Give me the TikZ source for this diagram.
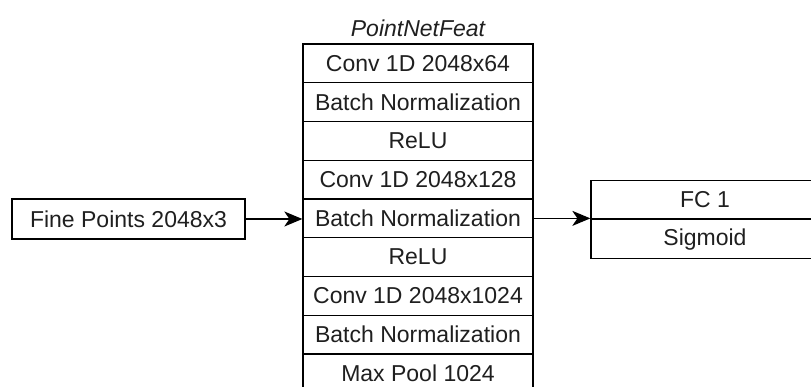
\documentclass[tikz,border=0pt]{standalone}
\usepackage{fontspec}
\setmainfont{Liberation Sans}
\usetikzlibrary{arrows.meta}
\begin{document}
\begin{tikzpicture}[x=1pt,y=-1pt,
  every node/.style={font=\fontsize{23}{27}\selectfont, text=black!88},
  layer/.style={draw=black, line width=1.3pt, minimum width=230pt, minimum height=38.75pt, inner sep=0pt, fill=white},
  headbox/.style={draw=black, line width=1.3pt, minimum width=228pt, inner sep=0pt, fill=white},
  flow/.style={draw=black, line width=1.4pt, -{Stealth[length=18pt,width=15pt,inset=5pt]}}]
  \useasboundingbox (0,0) rectangle (811,387);
  \clip (0,0) rectangle (811,387);

  % feature extractor stack
  \foreach \t [count=\i] in {Conv 1D 2048x64, Batch Normalization, ReLU, Conv 1D 2048x128, Batch Normalization, ReLU, Conv 1D 2048x1024, Batch Normalization, Max Pool 1024}
    \node[layer] (r\i) at (418, {44 + 38.75*(\i-0.5)}) {\t};
  \node[font=\fontsize{23}{27}\selectfont\itshape] (title) at (418,28) {PointNetFeat};

  % input
  \node[draw=black, line width=1.3pt, minimum width=233pt, minimum height=40pt, inner sep=0pt] (in) at (128.5,219) {Fine Points 2048x3};

  % classifier head
  \node[headbox, minimum height=38pt] (fc) at (705,199.375) {FC 1};
  \node[headbox, minimum height=39pt, anchor=north] (sig) at (fc.south) {Sigmoid};

  \draw[flow] (in.east) -- (in.east -| r5.west);
  \draw[flow] (r5.east) -- (r5.east -| fc.west);
\end{tikzpicture}
\end{document}
